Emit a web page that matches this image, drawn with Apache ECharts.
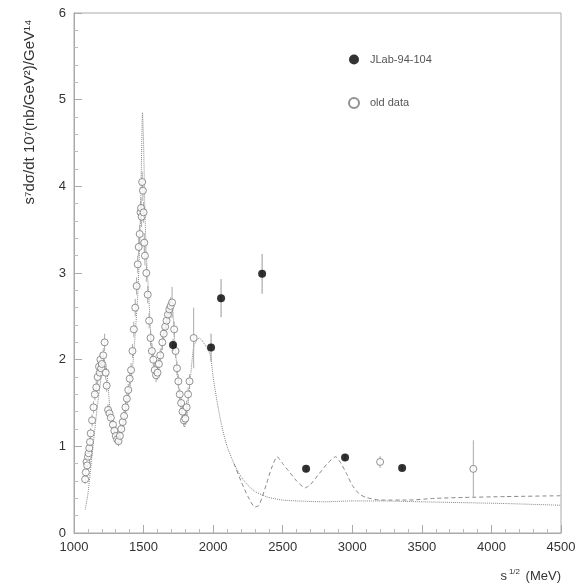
<!DOCTYPE html>
<html>
<head>
<meta charset="utf-8">
<script src="https://cdn.jsdelivr.net/npm/echarts@6/dist/echarts.min.js"></script>
<style>
html,body{margin:0;padding:0;background:#fff;}
#c{width:582px;height:586px;}
</style>
</head>
<body>
<div id="c"></div>
<script>
// ---- data ----
var xTicks = [1000, 1500, 2000, 2500, 3000, 3500, 4000, 4500];
var yTicks = [0, 1, 2, 3, 4, 5, 6];

// JLab-94-104: [sqrt(s) MeV, value, error]
var jlabData = [
  [1712, 2.17, 0.07],
  [1985, 2.14, 0.16],
  [2057, 2.71, 0.22],
  [2352, 2.99, 0.23],
  [2668, 0.74, 0.04],
  [2948, 0.87, 0.04],
  [3358, 0.75, 0.03]
];

// old data: [sqrt(s) MeV, value, error]
var oldData = [
  [1080,0.62,0.05],[1085,0.70,0.05],[1090,0.82,0.05],[1095,0.78,0.05],[1100,0.88,0.05],
  [1105,0.92,0.05],[1110,0.98,0.06],[1115,1.05,0.06],[1120,1.15,0.06],[1130,1.30,0.07],
  [1140,1.45,0.07],[1150,1.60,0.07],[1160,1.68,0.08],[1170,1.80,0.08],[1180,1.92,0.08],
  [1185,1.85,0.08],[1190,2.00,0.08],[1195,1.90,0.08],[1200,1.95,0.08],[1210,2.05,0.08],
  [1220,2.20,0.10],[1228,1.85,0.08],[1235,1.70,0.07],[1245,1.42,0.07],[1255,1.38,0.06],
  [1265,1.33,0.06],[1280,1.25,0.06],[1290,1.18,0.06],[1300,1.12,0.06],[1310,1.08,0.06],
  [1320,1.06,0.06],[1330,1.12,0.06],[1340,1.20,0.06],[1350,1.28,0.06],[1360,1.35,0.07],
  [1370,1.45,0.07],[1380,1.55,0.07],[1390,1.65,0.07],[1400,1.78,0.08],[1410,1.88,0.08],
  [1420,2.10,0.08],[1430,2.35,0.09],[1440,2.60,0.10],[1450,2.85,0.10],[1458,3.10,0.10],
  [1465,3.30,0.11],[1472,3.45,0.11],[1478,3.70,0.12],[1482,3.75,0.12],[1486,3.65,0.12],
  [1490,4.05,0.12],[1495,3.95,0.12],[1500,3.70,0.12],[1505,3.35,0.11],[1510,3.20,0.11],
  [1520,3.00,0.10],[1530,2.75,0.10],[1540,2.45,0.09],[1550,2.25,0.09],[1560,2.10,0.08],
  [1570,2.00,0.08],[1580,1.88,0.08],[1590,1.82,0.08],[1600,1.85,0.08],[1610,1.95,0.08],
  [1620,2.05,0.08],[1635,2.20,0.09],[1645,2.30,0.09],[1655,2.38,0.09],[1665,2.45,0.10],
  [1675,2.52,0.10],[1685,2.58,0.10],[1695,2.62,0.10],[1705,2.66,0.18],[1720,2.35,0.09],
  [1730,2.10,0.08],[1740,1.90,0.08],[1750,1.75,0.08],[1760,1.60,0.07],[1770,1.50,0.07],
  [1780,1.40,0.07],[1790,1.30,0.07],[1800,1.32,0.07],[1810,1.45,0.08],[1820,1.60,0.08],
  [1830,1.75,0.08],[1860,2.25,0.35],
  [3200,0.82,0.07],[3870,0.74,0.33]
];

// model curve A (dotted)
var curveA = [
  [1080,0.27],[1100,0.45],[1120,0.75],[1140,1.05],[1160,1.35],[1180,1.62],[1200,1.85],
  [1215,2.00],[1230,1.95],[1245,1.70],[1260,1.40],[1280,1.20],[1300,1.10],[1320,1.06],
  [1340,1.15],[1360,1.30],[1380,1.45],[1400,1.65],[1420,1.90],[1440,2.30],[1460,2.80],
  [1475,3.50],[1485,4.30],[1492,4.85],[1500,4.50],[1510,3.70],[1520,3.20],[1535,2.80],
  [1550,2.35],[1570,2.00],[1590,1.82],[1610,1.92],[1630,2.12],[1650,2.32],[1670,2.48],
  [1690,2.60],[1705,2.64],[1720,2.30],[1740,1.90],[1760,1.55],[1780,1.30],[1795,1.22],
  [1815,1.40],[1840,1.85],[1860,2.15],[1880,2.22],[1900,2.25],[1920,2.22],[1950,2.15],
  [1980,2.05],[2000,1.80],[2030,1.50],[2060,1.25],[2100,1.00],[2150,0.80],[2200,0.65],
  [2250,0.55],[2300,0.48],[2350,0.44],[2400,0.41],[2500,0.38],[2600,0.37],[2800,0.36],
  [3000,0.37],[3200,0.37],[3500,0.36],[3800,0.35],[4100,0.34],[4500,0.32]
];

// model curve B (dashed)
var curveB = [
  [2150,0.80],[2200,0.60],[2250,0.42],[2300,0.30],[2330,0.32],[2380,0.55],[2420,0.75],
  [2460,0.88],[2500,0.80],[2550,0.70],[2600,0.60],[2660,0.52],[2700,0.56],[2760,0.68],
  [2820,0.80],[2880,0.88],[2920,0.80],[2960,0.68],[3000,0.55],[3050,0.45],[3100,0.41],
  [3200,0.38],[3400,0.38],[3600,0.40],[3800,0.41],[4100,0.42],[4500,0.43]
];

var legendNames = ['JLab-94-104', 'old data'];
var yTitle = 's\u2077d\u03C3/dt 10\u2077(nb/GeV\u00B2)/GeV\u00B9\u2074';

var FONT = 'Liberation Sans, Arial, Helvetica, sans-serif';
var chart = echarts.init(document.getElementById('c'), null, {renderer: 'canvas'});

function errRender(color) {
  return function (params, api) {
    var x = api.value(0), y = api.value(1), e = api.value(2);
    var top = api.coord([x, y + e]);
    var bot = api.coord([x, y - e]);
    return {
      type: 'line',
      shape: {x1: top[0], y1: top[1], x2: bot[0], y2: bot[1]},
      style: {stroke: color, lineWidth: 1}
    };
  };
}

function plainNum(v) { return String(v); }

var axisCommon = {
  axisLine: {show: true, lineStyle: {color: '#aaa', width: 1}},
  axisTick: {show: true, inside: true, length: 8, lineStyle: {color: '#aaa'}},
  minorTick: {show: true, splitNumber: 5, length: 4, lineStyle: {color: '#bbb'}},
  splitLine: {show: false}
};

chart.setOption({
  animation: false,
  backgroundColor: '#fff',
  grid: {left: 74, right: 21, top: 13, bottom: 53, show: true, borderColor: '#aaa', borderWidth: 1},
  xAxis: Object.assign({
    type: 'value', min: xTicks[0], max: xTicks[xTicks.length - 1], interval: 500
  }, axisCommon, {axisLabel: {color: '#333', fontSize: 13, fontFamily: FONT, margin: 8, formatter: plainNum}}),
  yAxis: Object.assign({
    type: 'value', min: yTicks[0], max: yTicks[yTicks.length - 1], interval: 1
  }, axisCommon, {axisLabel: {color: '#333', fontSize: 13, fontFamily: FONT, margin: 8, formatter: plainNum}}),
  legend: {
    data: legendNames,
    orient: 'vertical',
    left: 343,
    top: 49,
    itemWidth: 10,
    itemHeight: 10,
    itemGap: 32,
    textStyle: {color: '#555', fontSize: 11, fontFamily: FONT, padding: [0, 0, 0, 6]}
  },
  graphic: [
    {
      type: 'text',
      x: 30, y: 112,
      rotation: Math.PI / 2,
      style: {text: yTitle, fill: '#333', font: '15px ' + FONT, align: 'center', verticalAlign: 'middle'}
    },
    {
      type: 'text',
      x: 561, y: 576,
      style: {
        text: '{b|s}{s|1/2}{b| (MeV)}',
        align: 'right', verticalAlign: 'middle',
        rich: {
          b: {fontSize: 13, fontFamily: FONT, fill: '#333', color: '#333'},
          s: {fontSize: 8, fontFamily: FONT, fill: '#333', color: '#333', verticalAlign: 'top', padding: [0, 2, 8, 2]}
        }
      }
    }
  ],
  series: [
    {
      type: 'line', name: 'curveA', data: curveA, showSymbol: false, smooth: 0.2,
      lineStyle: {color: '#888', width: 1, type: 'dotted'}, silent: true, z: 1
    },
    {
      type: 'line', name: 'curveB', data: curveB, showSymbol: false, smooth: 0.2,
      lineStyle: {color: '#888', width: 1, type: [4, 3]}, silent: true, z: 1
    },
    {
      type: 'custom', name: 'oldErr', data: oldData, renderItem: errRender('#aaa'), z: 2, silent: true
    },
    {
      type: 'scatter', name: 'old data', data: oldData, symbol: 'circle', symbolSize: 7,
      itemStyle: {color: '#fff', borderColor: '#777', borderWidth: 1}, z: 3
    },
    {
      type: 'custom', name: 'jlabErr', data: jlabData, renderItem: errRender('#999'), z: 4, silent: true
    },
    {
      type: 'scatter', name: 'JLab-94-104', data: jlabData, symbol: 'circle', symbolSize: 8,
      itemStyle: {color: '#000'}, z: 5
    }
  ]
});
</script>
</body>
</html>
